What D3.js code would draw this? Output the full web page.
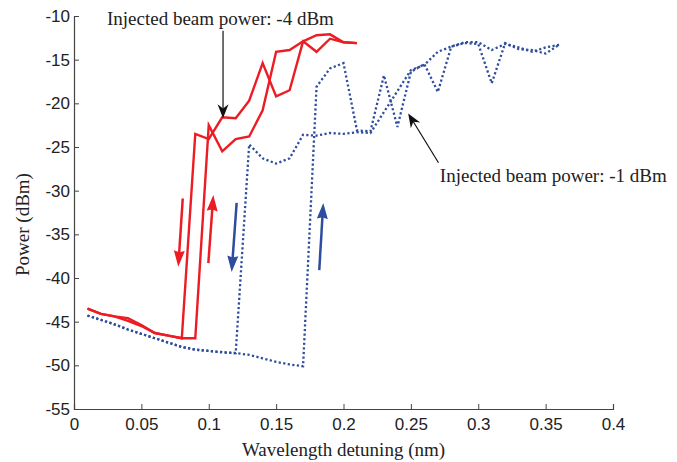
<!DOCTYPE html>
<html>
<head>
  <meta charset="utf-8">
  <script src="https://cdn.jsdelivr.net/npm/d3@7"></script>
  <style>
    body { margin: 0; background: #fff; }
    .tick text { font-family: "Liberation Sans", Arial, sans-serif; font-size: 17px; fill: #222; }
    .title { font-family: "Liberation Serif", "Times New Roman", serif; font-size: 19px; fill: #222; }
  </style>
</head>
<body>
  <div id="chart"></div>
  <script>
    // detuning values (nm)
    const redX = [0.01, 0.02, 0.03, 0.04, 0.05, 0.06, 0.07, 0.08, 0.09, 0.10, 0.11,
                  0.12, 0.13, 0.14, 0.15, 0.16, 0.17, 0.18, 0.19, 0.20, 0.21];
    // injected -4 dBm, increasing detuning
    const redUp = [-43.5, -44.1, -44.4, -44.6, -45.4, -46.3, -46.6, -46.9, -46.9, -22.5, -25.5,
                   -24.1, -23.8, -20.8, -14.1, -13.9, -12.9, -12.2, -12.1, -13.0, -13.1];
    // injected -4 dBm, decreasing detuning
    const redDown = [-43.5, -44.1, -44.4, -44.9, -45.5, -46.3, -46.6, -46.9, -23.5, -24.1, -21.6,
                     -21.7, -19.7, -15.4, -19.2, -18.5, -12.9, -14.1, -12.6, -13.0, -13.1];

    const blueX = [0.01, 0.02, 0.03, 0.04, 0.05, 0.06, 0.07, 0.08, 0.09, 0.10, 0.11, 0.12,
                   0.13, 0.14, 0.15, 0.16, 0.17, 0.18, 0.19, 0.20, 0.21, 0.22, 0.23, 0.24,
                   0.25, 0.26, 0.27, 0.28, 0.29, 0.30, 0.31, 0.32, 0.33, 0.34, 0.35, 0.36];
    // injected -1 dBm, increasing detuning
    const blueUp = [-44.3, -44.8, -45.3, -45.9, -46.4, -46.9, -47.4, -47.9, -48.2, -48.35, -48.5, -48.6,
                    -48.8, -49.2, -49.6, -49.9, -50.1, -18.1, -16.0, -15.4, -23.1, -23.2, -16.8, -22.7,
                    -16.4, -15.5, -18.7, -13.5, -13.1, -13.2, -17.7, -13.1, -13.8, -13.9, -14.3, -13.3];
    // injected -1 dBm, decreasing detuning
    const blueDown = [-44.3, -44.8, -45.3, -45.9, -46.4, -46.9, -47.4, -47.9, -48.2, -48.35, -48.5, -48.6,
                      -24.7, -26.3, -26.9, -26.3, -23.6, -23.7, -23.4, -23.5, -23.3, -23.4, -21.0, -18.6,
                      -16.2, -15.6, -14.1, -13.5, -13.0, -13.0, -13.9, -13.2, -13.6, -14.1, -13.6, -13.3];

    const xTicks = [0, 0.05, 0.1, 0.15, 0.2, 0.25, 0.3, 0.35, 0.4];
    const xTickLabels = ["0", "0.05", "0.1", "0.15", "0.2", "0.25", "0.3", "0.35", "0.4"];
    const yTicks = [-55, -50, -45, -40, -35, -30, -25, -20, -15, -10];
    const yTickLabels = ["-55", "-50", "-45", "-40", "-35", "-30", "-25", "-20", "-15", "-10"];

    const red = "#ec1c24", blue = "#2f4d9f";

    const W = 677, H = 462;
    const margin = {top: 16, right: 64, bottom: 53, left: 74};
    const width = W - margin.left - margin.right;
    const height = H - margin.top - margin.bottom;

    const svg = d3.select("#chart").append("svg")
      .attr("width", W).attr("height", H);
    const g = svg.append("g")
      .attr("transform", `translate(${margin.left},${margin.top})`);

    const x = d3.scaleLinear().domain([0, 0.4]).range([0, width]);
    const y = d3.scaleLinear().domain([-55, -10]).range([height, 0]);

    const xAxis = g.append("g")
      .attr("transform", `translate(0,${height})`)
      .call(d3.axisBottom(x).tickValues(xTicks).tickSize(-5).tickPadding(9)
        .tickFormat((d, i) => xTickLabels[i]));
    const yAxis = g.append("g")
      .call(d3.axisLeft(y).tickValues(yTicks).tickSize(-5).tickPadding(4)
        .tickFormat((d, i) => yTickLabels[i]));
    [xAxis, yAxis].forEach(a => {
      a.select(".domain").attr("stroke", "#444").attr("stroke-width", 1.2);
      a.selectAll(".tick line").attr("stroke", "#444");
    });

    const line = d3.line().x(d => x(d[0])).y(d => y(d[1]));
    const pairs = (xs, ys) => xs.map((v, i) => [v, ys[i]]);

    [[blueX, blueDown], [blueX, blueUp]].forEach(([xs, ys]) => {
      g.append("path").datum(pairs(xs, ys))
        .attr("d", line).attr("fill", "none")
        .attr("stroke", blue).attr("stroke-width", 2.3)
        .attr("stroke-dasharray", "2.2,2.4");
    });
    [[redX, redDown], [redX, redUp]].forEach(([xs, ys]) => {
      g.append("path").datum(pairs(xs, ys))
        .attr("d", line).attr("fill", "none")
        .attr("stroke", red).attr("stroke-width", 2.4)
        .attr("stroke-linejoin", "miter");
    });

    // arrow helper, in data units
    function arrow(x0, y0, x1, y1, color, w, headL, headW, notch) {
      const ax = x(x0), ay = y(y0), bx = x(x1), by = y(y1);
      const dx = bx - ax, dy = by - ay, len = Math.hypot(dx, dy);
      const ux = dx / len, uy = dy / len, nx = -uy, ny = ux;
      const baseX = bx - ux * headL, baseY = by - uy * headL;
      g.append("line")
        .attr("x1", ax).attr("y1", ay)
        .attr("x2", bx - ux * headL * 0.6).attr("y2", by - uy * headL * 0.6)
        .attr("stroke", color).attr("stroke-width", w);
      const pts = [
        [bx, by],
        [baseX + nx * headW / 2, baseY + ny * headW / 2],
        [bx - ux * headL * (1 - notch), by - uy * headL * (1 - notch)],
        [baseX - nx * headW / 2, baseY - ny * headW / 2]
      ];
      g.append("polygon").attr("points", pts.map(p => p.join(",")).join(" "))
        .attr("fill", color);
    }

    arrow(0.0807, -30.9, 0.0774, -38.7, red, 2.5, 16, 11, 0.1);
    arrow(0.0997, -38.3, 0.1034, -30.5, red, 2.5, 16, 11, 0.1);
    arrow(0.1207, -31.4, 0.1170, -39.3, blue, 2.5, 16, 11, 0.1);
    arrow(0.1820, -39.1, 0.1850, -31.4, blue, 2.5, 16, 11, 0.1);

    arrow(0.1106, -11.7, 0.1106, -21.7, "#111", 1.2, 14, 11, 0.3);
    arrow(0.2705, -26.8, 0.2480, -21.15, "#111", 1.2, 14, 11, 0.3);

    g.append("text").attr("class", "title")
      .attr("x", x(0.0245)).attr("y", y(-11.0))
      .text("Injected beam power: -4 dBm");
    g.append("text").attr("class", "title")
      .attr("x", x(0.2715)).attr("y", y(-29.05))
      .text("Injected beam power: -1 dBm");

    svg.append("text").attr("class", "title")
      .attr("text-anchor", "middle")
      .attr("x", margin.left + width / 2).attr("y", 456)
      .text("Wavelength detuning (nm)");
    svg.append("text").attr("class", "title")
      .attr("text-anchor", "middle")
      .attr("transform", `translate(29,${margin.top + height / 2 + 12}) rotate(-90)`)
      .text("Power (dBm)");
  </script>
</body>
</html>
